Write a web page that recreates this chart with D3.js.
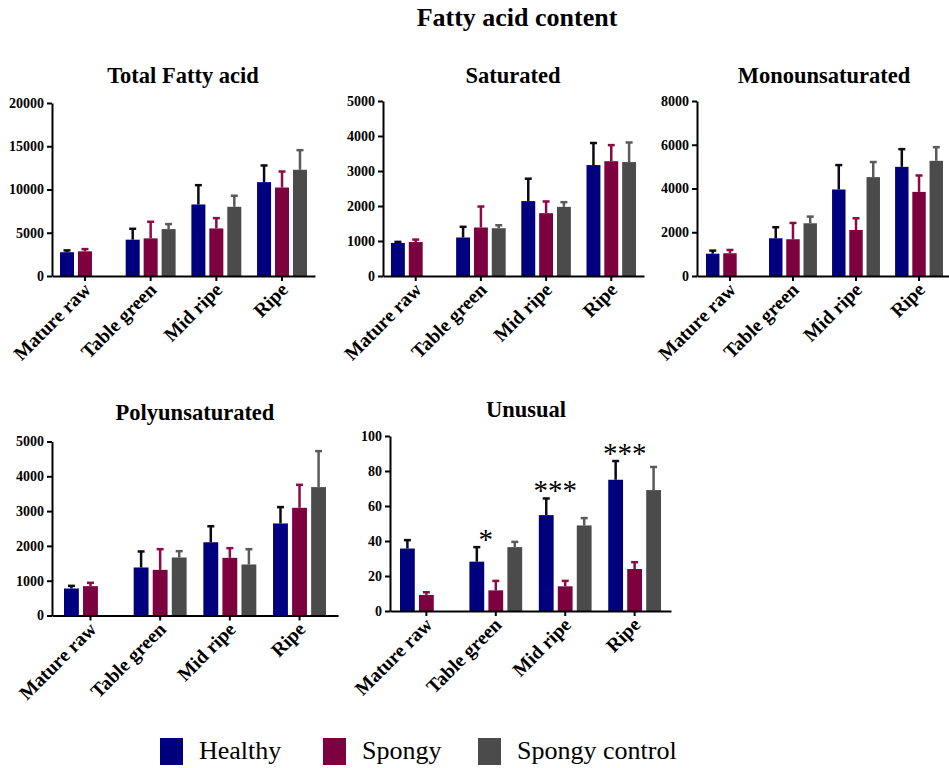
<!DOCTYPE html>
<html>
<head>
<meta charset="utf-8">
<script src="https://cdn.jsdelivr.net/npm/d3@7/dist/d3.min.js"></script>
<style>
  html, body { margin: 0; padding: 0; background: #fff; }
  svg { display: block; }
</style>
</head>
<body>
<script>
// ---------------- DATA ----------------
const categories = ["Mature raw", "Table green", "Mid ripe", "Ripe"];
const seriesNames = ["Healthy", "Spongy", "Spongy control"];

// Total fatty acid
const totalHealthy = [2750, 4200, 8270, 10850];
const totalSpongy  = [2850, 4350, 5500, 10230];
const totalControl = [null, 5420, 8000, 12280];
const totalHealthySD = [210, 1260, 2230, 1930];
const totalSpongySD  = [260, 1920, 1190, 1850];
const totalControlSD = [null, 580, 1280, 2270];

// Saturated
const satHealthy = [945, 1100, 2140, 3170];
const satSpongy  = [970, 1385, 1795, 3280];
const satControl = [null, 1365, 1975, 3255];
const satHealthySD = [30, 305, 640, 630];
const satSpongySD  = [70, 600, 335, 460];
const satControlSD = [null, 85, 135, 560];

// Monounsaturated
const monoHealthy = [1020, 1725, 3955, 4990];
const monoSpongy  = [1040, 1680, 2105, 3845];
const monoControl = [null, 2410, 4520, 5265];
const monoHealthySD = [140, 505, 1115, 810];
const monoSpongySD  = [150, 745, 535, 750];
const monoControlSD = [null, 305, 690, 625];

// Polyunsaturated
const polyHealthy = [776, 1380, 2105, 2645];
const polySpongy  = [843, 1312, 1657, 3095];
const polyControl = [null, 1667, 1466, 3690];
const polyHealthySD = [76, 460, 460, 470];
const polySpongySD  = [96, 594, 278, 660];
const polyControlSD = [null, 182, 440, 1034];

// Unusual
const unuHealthy = [35.7, 28.2, 54.8, 75.0];
const unuSpongy  = [9.2, 11.8, 14.1, 24.0];
const unuControl = [null, 36.5, 48.9, 69.1];
const unuHealthySD = [4.8, 8.3, 9.5, 10.7];
const unuSpongySD  = [1.5, 5.4, 3.1, 3.9];
const unuControlSD = [null, 3.0, 4.2, 13.2];
const unuSignificance = ["", "*", "***", "***"];

// Tick values
const totalTicks = [0, 5000, 10000, 15000, 20000];
const satTicks   = [0, 1000, 2000, 3000, 4000, 5000];
const monoTicks  = [0, 2000, 4000, 6000, 8000];
const polyTicks  = [0, 1000, 2000, 3000, 4000, 5000];
const unuTicks   = [0, 20, 40, 60, 80, 100];

const mainTitle = "Fatty acid content";

// ---------------- STYLE / LAYOUT ----------------
const barColors = { "Healthy": "#00007f", "Spongy": "#7d003f", "Spongy control": "#4b4b4b" };
const errColors = { "Healthy": "#0b0b14", "Spongy": "#8c0b47", "Spongy control": "#5a5a5a" };
const serif = "Liberation Serif";

const panels = [
  { title: "Total Fatty acid", titleX: 183, titleY: 83,
    means: [totalHealthy, totalSpongy, totalControl], sds: [totalHealthySD, totalSpongySD, totalControlSD],
    ticks: totalTicks, x0: 52, x1: 315, po: 0.122, y0: 276, yTop: 103 },
  { title: "Saturated", titleX: 513, titleY: 83,
    means: [satHealthy, satSpongy, satControl], sds: [satHealthySD, satSpongySD, satControlSD],
    ticks: satTicks, x0: 383, x1: 644, po: 0.122, y0: 276, yTop: 101 },
  { title: "Monounsaturated", titleX: 824, titleY: 83,
    means: [monoHealthy, monoSpongy, monoControl], sds: [monoHealthySD, monoSpongySD, monoControlSD],
    ticks: monoTicks, x0: 697, x1: 952, po: 0.143, y0: 276, yTop: 101 },
  { title: "Polyunsaturated", titleX: 195, titleY: 420,
    means: [polyHealthy, polySpongy, polyControl], sds: [polyHealthySD, polySpongySD, polyControlSD],
    ticks: polyTicks, x0: 52, x1: 338, po: 0.172, y0: 615.5, yTop: 441.5 },
  { title: "Unusual", titleX: 526, titleY: 417,
    means: [unuHealthy, unuSpongy, unuControl], sds: [unuHealthySD, unuSpongySD, unuControlSD],
    ticks: unuTicks, x0: 390, x1: 671, po: 0.144, y0: 611, yTop: 436, stars: unuSignificance }
];

// ---------------- DRAW ----------------
const svg = d3.select("body").append("svg")
  .attr("width", 949).attr("height", 768);

svg.append("text")
  .attr("x", 517).attr("y", 26)
  .attr("text-anchor", "middle")
  .attr("font-family", serif).attr("font-weight", "bold").attr("font-size", 26)
  .text(mainTitle);

panels.forEach(p => {
  const g = svg.append("g");
  const x = d3.scaleBand().domain(categories).range([p.x0, p.x1])
    .paddingInner(0.24).paddingOuter(p.po);
  const xs = d3.scaleBand().domain(seriesNames).range([0, x.bandwidth()]).paddingInner(0.22);
  const ymax = p.ticks[p.ticks.length - 1];
  const y = d3.scaleLinear().domain([0, ymax]).range([p.y0, p.yTop]);

  // bars + error bars
  seriesNames.forEach((s, si) => {
    categories.forEach((c, ci) => {
      const m = p.means[si][ci];
      if (m == null) return;
      const sd = p.sds[si][ci];
      const bx = x(c) + xs(s);
      const bw = xs.bandwidth();
      const cx = bx + bw / 2;
      g.append("line")
        .attr("x1", cx).attr("x2", cx)
        .attr("y1", y(m)).attr("y2", y(m + sd))
        .attr("stroke", errColors[s]).attr("stroke-width", 2.5);
      g.append("line")
        .attr("x1", cx - 3.5).attr("x2", cx + 3.5)
        .attr("y1", y(m + sd)).attr("y2", y(m + sd))
        .attr("stroke", errColors[s]).attr("stroke-width", 2.5);
      g.append("rect")
        .attr("x", bx).attr("y", y(m))
        .attr("width", bw).attr("height", y(0) - y(m))
        .attr("fill", barColors[s]);
    });
  });

  // significance stars
  if (p.stars) {
    categories.forEach((c, ci) => {
      const st = p.stars[ci];
      if (!st) return;
      const m = p.means[0][ci], sd = p.sds[0][ci];
      const cx = x(c) + xs("Healthy") + xs.bandwidth() / 2;
      g.append("text")
        .attr("x", cx + 9).attr("y", y(m + sd) + 2)
        .attr("text-anchor", "middle")
        .attr("font-family", serif).attr("font-size", 29)
        .text(st);
    });
  }

  // y axis
  const yAxis = g.append("g")
    .attr("transform", `translate(${p.x0},0)`)
    .call(d3.axisLeft(y).tickValues(p.ticks).tickSize(5).tickSizeOuter(0).tickPadding(3)
      .tickFormat(d3.format("d")));
  yAxis.attr("font-family", serif).attr("font-size", 14).attr("font-weight", "bold");
  yAxis.select(".domain").attr("stroke", "#000").attr("stroke-width", 2);
  yAxis.selectAll(".tick line").attr("stroke", "#000").attr("stroke-width", 2);
  yAxis.selectAll(".tick text").attr("fill", "#000");

  // x axis
  const xAxis = g.append("g")
    .attr("transform", `translate(0,${p.y0})`)
    .call(d3.axisBottom(x).tickSize(5).tickSizeOuter(0));
  xAxis.attr("font-family", serif).attr("font-size", 19.5).attr("font-weight", "bold");
  xAxis.select(".domain").attr("stroke", "#000").attr("stroke-width", 2);
  xAxis.selectAll(".tick line").attr("stroke", "#000").attr("stroke-width", 2);
  xAxis.selectAll(".tick text")
    .attr("x", 0).attr("y", 0).attr("dy", null)
    .attr("text-anchor", "end")
    .attr("transform", "translate(7,15) rotate(-45)")
    .attr("fill", "#000");

  // title
  svg.append("text")
    .attr("x", p.titleX).attr("y", p.titleY)
    .attr("text-anchor", "middle")
    .attr("font-family", serif).attr("font-weight", "bold").attr("font-size", 22.5)
    .text(p.title);
});

// legend
const legendX = [160, 323, 478];
const legendTextX = [199, 362, 517];
const legend = svg.append("g");
seriesNames.forEach((s, i) => {
  legend.append("rect")
    .attr("x", legendX[i]).attr("y", 738)
    .attr("width", 23).attr("height", 27)
    .attr("fill", barColors[s]);
  legend.append("text")
    .attr("x", legendTextX[i]).attr("y", 759)
    .attr("font-family", serif).attr("font-size", 26)
    .text(s);
});
</script>
</body>
</html>
